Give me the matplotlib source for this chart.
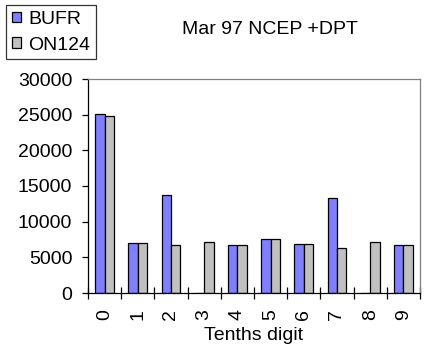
import numpy as np
import matplotlib.pyplot as plt

plt.rcParams['font.family'] = ['Liberation Sans', 'DejaVu Sans']

digits = ['0', '1', '2', '3', '4', '5', '6', '7', '8', '9']
bufr = [25100, 7000, 13750, 0, 6750, 7600, 6900, 13350, 0, 6750]
on124 = [24750, 7000, 6750, 7150, 6750, 7600, 6900, 6300, 7150, 6750]

fig = plt.figure(figsize=(4.27, 3.53), dpi=100)
ax = fig.add_axes([88/427, 60/353, 332/427, 214/353])

x = np.arange(len(digits))
w = 0.285
b1 = ax.bar(x - w/2, bufr, w, color='#8080FF', edgecolor='black', linewidth=0.9, label='BUFR')
b2 = ax.bar(x + w/2, on124, w, color='#C0C0C0', edgecolor='black', linewidth=0.9, label='ON124')

ax.set_xlim(-0.5, 9.5)
ax.set_ylim(0, 30000)
ax.set_yticks(range(0, 30001, 5000))
ax.tick_params(axis='y', direction='out', length=4.3, width=0.9, labelsize=14, pad=7)

# category boundaries get the tick marks, labels sit at the centres
ax.set_xticks(np.arange(-0.5, 10, 1))
ax.set_xticklabels([])
ax.tick_params(axis='x', which='major', direction='inout', length=8.6, width=0.9)
ax.set_xticks(x, minor=True)
ax.set_xticklabels(digits, minor=True, rotation=90)
ax.tick_params(axis='x', which='minor', length=0, labelsize=14, pad=11.5)
ax.set_xlabel('Tenths digit', fontsize=14, labelpad=5)

for s in ['top', 'right']:
    ax.spines[s].set_color('#808080')
    ax.spines[s].set_linewidth(0.9)
for s in ['left', 'bottom']:
    ax.spines[s].set_linewidth(0.9)

fig.text(270/427, 1 - 29/353, 'Mar 97 NCEP +DPT', ha='center', va='center', fontsize=14)

leg = fig.legend(handles=[b1, b2], loc='upper left', bbox_to_anchor=(6/427, 1 - 5/353),
                 fontsize=14, frameon=True, fancybox=False, edgecolor='black',
                 handlelength=0.45, handleheight=0.45, handletextpad=0.4,
                 borderpad=0.3, labelspacing=0.45, borderaxespad=0)
leg.get_frame().set_linewidth(0.9)

fig.savefig('out.png', dpi=100)
